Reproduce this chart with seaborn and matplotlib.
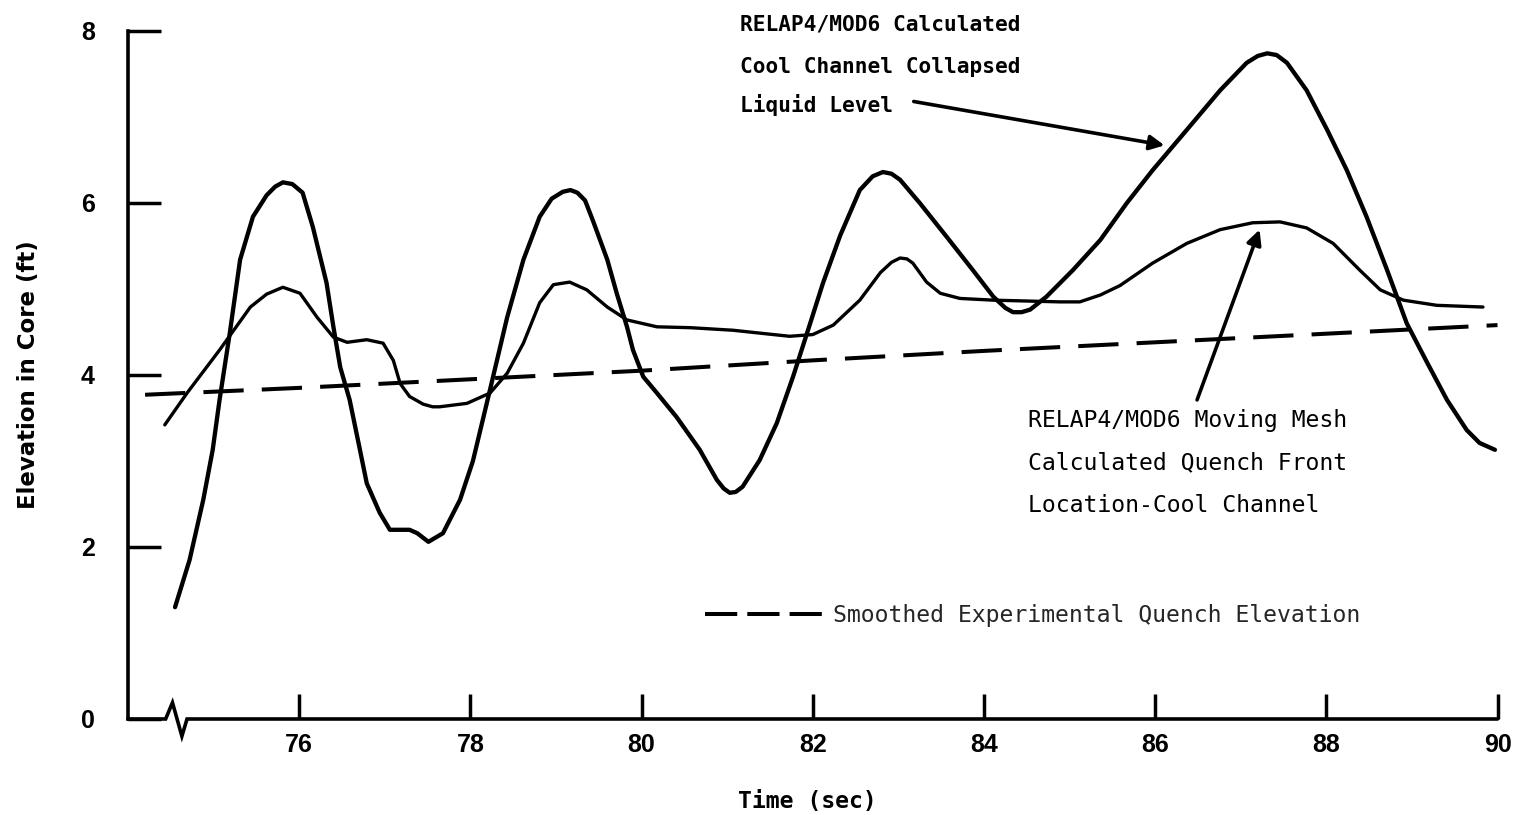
import matplotlib
matplotlib.use("Agg")
import matplotlib.pyplot as plt
from matplotlib.lines import Line2D
import seaborn as sns
import pandas as pd

# ---------------- data ----------------
t_level = [74.55, 74.72, 74.88, 74.99, 75.07, 75.19, 75.31, 75.46, 75.62, 75.72,
           75.81, 75.92, 76.04, 76.16, 76.32, 76.40, 76.48, 76.59, 76.71, 76.79,
           76.94, 77.06, 77.29, 77.38, 77.51, 77.68, 77.88, 78.03, 78.23, 78.43,
           78.62, 78.81, 78.95, 79.08, 79.17, 79.25, 79.34, 79.43, 79.60, 79.71,
           79.83, 79.90, 80.02, 80.18, 80.41, 80.68, 80.88, 80.96, 81.03, 81.10,
           81.18, 81.38, 81.58, 81.77, 81.97, 82.12, 82.32, 82.55, 82.70, 82.82,
           82.92, 83.02, 83.25, 83.57, 83.87, 84.11, 84.25, 84.34, 84.44, 84.54,
           84.73, 85.04, 85.36, 85.67, 85.97, 86.37, 86.76, 87.07, 87.20, 87.31,
           87.42, 87.54, 87.77, 88.01, 88.24, 88.47, 88.71, 88.94, 89.18, 89.41,
           89.64, 89.79, 89.97]
level = [1.30, 1.85, 2.55, 3.13, 3.71, 4.49, 5.34, 5.84, 6.09, 6.19,
         6.24, 6.22, 6.12, 5.72, 5.07, 4.56, 4.09, 3.71, 3.13, 2.74,
         2.40, 2.20, 2.20, 2.16, 2.06, 2.16, 2.55, 3.00, 3.83, 4.67,
         5.34, 5.84, 6.05, 6.13, 6.15, 6.12, 6.03, 5.80, 5.34, 4.95,
         4.56, 4.29, 3.98, 3.79, 3.51, 3.13, 2.78, 2.68, 2.63, 2.64,
         2.70, 3.01, 3.44, 3.98, 4.60, 5.07, 5.62, 6.15, 6.31, 6.36,
         6.34, 6.27, 6.00, 5.60, 5.22, 4.91, 4.78, 4.73, 4.73, 4.76,
         4.91, 5.22, 5.57, 6.00, 6.38, 6.85, 7.31, 7.63, 7.71, 7.74,
         7.72, 7.63, 7.31, 6.85, 6.38, 5.84, 5.22, 4.60, 4.14, 3.71,
         3.36, 3.21, 3.13]

t_quench = [74.43, 74.69, 75.07, 75.43, 75.62, 75.81, 76.01, 76.21, 76.40, 76.56,
            76.79, 76.98, 77.10, 77.18, 77.29, 77.45, 77.56, 77.64, 77.96, 78.23,
            78.43, 78.62, 78.81, 78.97, 79.16, 79.36, 79.60, 79.83, 80.18, 80.57,
            81.07, 81.35, 81.73, 82.00, 82.24, 82.55, 82.79, 82.92, 83.02, 83.10,
            83.17, 83.33, 83.49, 83.72, 84.11, 84.50, 84.89, 85.12, 85.36, 85.59,
            85.97, 86.37, 86.76, 87.14, 87.46, 87.77, 88.08, 88.39, 88.63, 88.90,
            89.29, 89.83]
quench = [3.42, 3.79, 4.29, 4.79, 4.94, 5.02, 4.95, 4.67, 4.44, 4.38,
          4.41, 4.37, 4.17, 3.90, 3.75, 3.66, 3.63, 3.63, 3.67, 3.79,
          4.02, 4.37, 4.84, 5.05, 5.08, 4.99, 4.79, 4.64, 4.56, 4.55,
          4.52, 4.49, 4.45, 4.47, 4.58, 4.87, 5.19, 5.31, 5.36, 5.35,
          5.30, 5.08, 4.95, 4.89, 4.87, 4.86, 4.85, 4.85, 4.93, 5.04,
          5.30, 5.53, 5.69, 5.77, 5.78, 5.71, 5.53, 5.22, 4.99, 4.87,
          4.81, 4.79]

t_exp = [74.2, 76, 78, 80, 82, 84, 86, 88, 90]
exp_quench = [3.77, 3.85, 3.95, 4.05, 4.17, 4.28, 4.38, 4.48, 4.58]

x_ticks = [76, 78, 80, 82, 84, 86, 88, 90]
y_ticks = [0, 2, 4, 6, 8]

level_label = ["RELAP4/MOD6 Calculated", "Cool Channel Collapsed", "Liquid Level"]
quench_label = ["RELAP4/MOD6 Moving Mesh", "Calculated Quench Front", "Location-Cool Channel"]
exp_label = "Smoothed Experimental Quench Elevation"
x_title = "Time (sec)"
y_title = "Elevation in Core (ft)"

# ---------------- figure ----------------
sns.set_theme(style="white")
plt.rcParams["font.family"] = ["Liberation Sans", "DejaVu Sans"]
MONO = ["DejaVu Sans Mono", "Liberation Mono"]
NARROW = ["Liberation Sans Narrow", "Liberation Sans", "DejaVu Sans"]

fig = plt.figure(figsize=(15.18, 8.15), dpi=100)
ax = fig.add_axes([0.0843, 0.1178, 0.9022, 0.8442])

df_level = pd.DataFrame({"t": t_level, "h": level})
df_quench = pd.DataFrame({"t": t_quench, "h": quench})
df_exp = pd.DataFrame({"t": t_exp, "h": exp_quench})

sns.lineplot(data=df_level, x="t", y="h", ax=ax, color="black", linewidth=3.1,
             estimator=None, sort=False)
sns.lineplot(data=df_quench, x="t", y="h", ax=ax, color="black", linewidth=2.4,
             estimator=None, sort=False)
sns.lineplot(data=df_exp, x="t", y="h", ax=ax, color="black", linewidth=2.9,
             estimator=None, sort=False)
ax.lines[-1].set_dashes((10, 4.5))
for ln in ax.lines:
    ln.set_solid_joinstyle("round")
    ln.set_solid_capstyle("round")

ax.set_xlim(74, 90)
ax.set_ylim(0, 8)
ax.set_xticks(x_ticks)
ax.set_xticklabels([str(v) for v in x_ticks])
ax.set_yticks(y_ticks)
ax.set_yticklabels([str(v) for v in y_ticks])
ax.tick_params(axis="x", which="major", bottom=True, direction="in", length=18,
               width=2.5, pad=10, labelsize=18, colors="black")
ax.tick_params(axis="y", which="major", left=True, direction="in", length=24,
               width=2.5, pad=24, labelsize=18, colors="black")
for lbl in ax.get_xticklabels() + ax.get_yticklabels():
    lbl.set_fontweight("bold")
    lbl.set_fontfamily(NARROW)

for s in ["top", "right", "bottom"]:
    ax.spines[s].set_visible(False)
ax.spines["left"].set_linewidth(2.6)
ax.spines["left"].set_color("black")

# x axis line with the axis-break zigzag near the origin
ax.plot([74, 74.44, 74.52, 74.63, 74.69, 90], [0, 0, 0.19, -0.2, 0, 0],
        color="black", lw=2.6, clip_on=False, solid_joinstyle="miter")

ax.set_xlabel(x_title, fontfamily=MONO, fontsize=16.7, fontweight="bold",
              color="black", va="baseline")
ax.xaxis.set_label_coords(0.496, (719 - 808) / 688)
ax.set_ylabel(y_title, fontfamily=["DejaVu Sans"], fontsize=16.5,
              fontweight="bold", color="black", va="center")
ax.yaxis.set_label_coords(-0.0723, 0.5)

# annotation: collapsed liquid level
for txt, yb in zip(level_label, [8.01, 7.51, 7.06]):
    ax.text(81.15, yb, txt, fontfamily=MONO, fontsize=15.2, fontweight="bold",
            va="baseline", ha="left", color="black")
ax.annotate("", xy=(86.11, 6.67), xytext=(83.18, 7.18),
            arrowprops=dict(arrowstyle="-|>", lw=2.6, color="black",
                            mutation_scale=22, shrinkA=0, shrinkB=0))

# annotation: quench front
for txt, yb in zip(quench_label, [3.40, 2.90, 2.41]):
    ax.text(84.51, yb, txt, fontfamily=MONO, fontsize=16.7,
            va="baseline", ha="left", color="black")
ax.annotate("", xy=(87.22, 5.69), xytext=(86.49, 3.71),
            arrowprops=dict(arrowstyle="-|>", lw=2.6, color="black",
                            mutation_scale=22, shrinkA=0, shrinkB=0))

# legend for the experimental curve
handle = Line2D([], [], color="black", lw=2.9, dashes=(8, 2.5))
ax.legend([handle], [exp_label], loc="center left",
          bbox_to_anchor=((705 - 128) / 1370, (719 - 616) / 688),
          frameon=False, borderpad=0, borderaxespad=0, handlelength=5.04,
          handletextpad=0.47, prop={"family": MONO, "size": 16.7})

fig.savefig("out.png", dpi=100, facecolor="white")
